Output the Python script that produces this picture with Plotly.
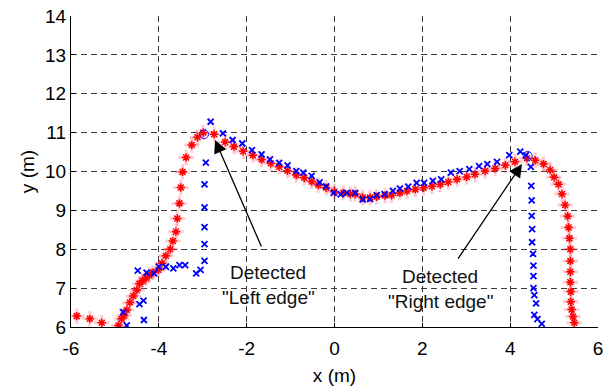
import plotly.graph_objects as go

# Red "*" series (x, y in metres)
red_x = [-5.87, -5.57, -5.30, -4.92, -4.85, -4.79, -4.73, -4.66, -4.58, -4.50, -4.44, -4.37, -4.29, -4.22,
         -4.13, -4.01, -3.93, -3.84, -3.74, -3.68, -3.61, -3.58, -3.53, -3.50, -3.46, -3.38, -3.25, -3.12,
         -2.99, -2.74, -2.49, -2.29, -2.08, -1.86, -1.66, -1.45, -1.26, -1.07, -0.87, -0.69, -0.52, -0.37,
         -0.19, 0.0, 0.20, 0.36, 0.47, 0.64, 0.81, 0.96, 1.15, 1.30, 1.49, 1.65, 1.84, 2.03, 2.22, 2.41,
         2.59, 2.79, 3.01, 3.20, 3.43, 3.66, 3.89, 4.11, 4.38, 4.57, 4.76, 4.91, 5.00, 5.10, 5.18, 5.25,
         5.31, 5.33, 5.35, 5.37, 5.37, 5.37, 5.37, 5.38, 5.38, 5.40, 5.43, 5.46]
red_y = [6.28, 6.21, 6.11, 6.04, 6.21, 6.30, 6.44, 6.63, 6.80, 6.95, 7.11, 7.19, 7.26, 7.33,
         7.40, 7.47, 7.64, 7.83, 8.00, 8.21, 8.45, 8.79, 9.18, 9.59, 9.99, 10.36, 10.68, 10.88,
         11.00, 10.96, 10.76, 10.64, 10.52, 10.42, 10.31, 10.21, 10.12, 10.02, 9.91, 9.84, 9.74, 9.65,
         9.58, 9.48, 9.45, 9.42, 9.42, 9.33, 9.33, 9.35, 9.38, 9.39, 9.45, 9.50, 9.54, 9.58, 9.62, 9.67,
         9.73, 9.80, 9.86, 9.93, 10.01, 10.08, 10.16, 10.25, 10.34, 10.29, 10.19, 10.04, 9.85, 9.67, 9.42, 9.14,
         8.85, 8.56, 8.28, 8.00, 7.70, 7.42, 7.15, 6.91, 6.65, 6.45, 6.27, 6.11]

# Blue "x" series
blue_x = [-4.73, -4.81, -4.34, -4.44, -4.35, -4.48, -4.28, -4.11, -4.00, -3.84, -3.67, -3.53, -3.40, -3.15,
          -3.05, -2.96, -2.96, -2.96, -2.96, -2.96, -2.93, -2.82, -2.54, -2.32, -2.10, -1.88, -1.66, -1.47,
          -1.26, -1.07, -0.87, -0.71, -0.52, -0.34, -0.19, -0.02, 0.14, 0.28, 0.47, 0.64, 0.81, 0.96,
          1.14, 1.33, 1.49, 1.68, 1.87, 2.04, 2.24, 2.43, 2.65, 2.85, 3.07, 3.29, 3.48, 3.70, 3.98, 4.23,
          4.36, 4.47, 4.48, 4.49, 4.49, 4.50, 4.50, 4.52, 4.53, 4.53, 4.53, 4.55, 4.59, 4.55, 4.62, 4.72]
blue_y = [6.04, 6.38, 6.18, 6.59, 6.68, 7.45, 7.40, 7.38, 7.55, 7.55, 7.51, 7.59, 7.59, 7.38,
          7.47, 7.70, 8.13, 8.57, 9.08, 9.67, 10.23, 11.28, 10.98, 10.81, 10.72, 10.55, 10.44, 10.31,
          10.22, 10.16, 10.01, 9.97, 9.89, 9.72, 9.62, 9.45, 9.41, 9.45, 9.45, 9.28, 9.29, 9.39,
          9.42, 9.50, 9.56, 9.61, 9.71, 9.71, 9.76, 9.80, 9.97, 10.01, 10.06, 10.14, 10.19, 10.25, 10.42, 10.51,
          10.42, 10.12, 9.63, 9.26, 8.86, 8.52, 8.18, 7.88, 7.58, 7.31, 7.00, 6.82, 6.61, 6.31, 6.20, 6.08]

# Detected edges (circles)
edge_x = [-2.97, 4.40]
edge_y = [10.96, 10.40]

# Annotation anchors: arrow tip, arrow tail, text position
left_tip = (-2.72, 10.81)
left_tail = (-1.65, 8.03)
left_text = (-1.51, 7.1)
right_tip = (4.27, 10.19)
right_tail = (2.79, 7.72)
right_text = (2.41, 6.98)

x_ticks = [-6, -4, -2, 0, 2, 4, 6]
y_ticks = [6, 7, 8, 9, 10, 11, 12, 13, 14]

FONT = "Liberation Sans, Arial, sans-serif"
FS = 19

fig = go.Figure()
# pink halo under red stars
fig.add_trace(go.Scatter(x=red_x, y=red_y, mode="markers", showlegend=False, hoverinfo="skip",
                         marker=dict(symbol="cross-thin-open", size=11, color="rgba(255,80,100,0.3)",
                                     line=dict(color="rgba(255,80,100,0.3)", width=3))))
fig.add_trace(go.Scatter(x=red_x, y=red_y, mode="markers", showlegend=False,
                         marker=dict(symbol="asterisk-open", size=7, color="#ff0000",
                                     line=dict(color="#ff0000", width=1.5))))
fig.add_trace(go.Scatter(x=blue_x, y=blue_y, mode="markers", showlegend=False,
                         marker=dict(symbol="x-thin-open", size=6, color="#0000ff",
                                     line=dict(color="#0000ff", width=1.8))))
fig.add_trace(go.Scatter(x=edge_x, y=edge_y, mode="markers", showlegend=False,
                         marker=dict(symbol="circle-open", size=9, color="#2020ff",
                                     line=dict(color="#2020ff", width=1))))

for tip, tail in [(left_tip, left_tail), (right_tip, right_tail)]:
    fig.add_annotation(x=tip[0], y=tip[1], ax=tail[0], ay=tail[1], xref="x", yref="y",
                       axref="x", ayref="y", text="", showarrow=True, arrowhead=2,
                       arrowsize=2, arrowwidth=1.3, arrowcolor="black")

for pos, lines in [(left_text, ["Detected", "\"Left edge\""]),
                   (right_text, ["Detected", "\"Right edge\""])]:
    fig.add_annotation(x=pos[0], y=pos[1], xref="x", yref="y", showarrow=False,
                       text=lines[0], yshift=12,
                       font=dict(family=FONT, size=FS, color="#111"))
    fig.add_annotation(x=pos[0], y=pos[1], xref="x", yref="y", showarrow=False,
                       text=lines[1], yshift=-13,
                       font=dict(family=FONT, size=FS, color="#111"))

axis_common = dict(showline=True, linecolor="black", linewidth=1.2,
                   showgrid=True, gridcolor="#3a3a3a", gridwidth=1, griddash="6px,4px",
                   ticks="inside", ticklen=4, tickcolor="black", zeroline=False,
                   tickfont=dict(family=FONT, size=FS, color="black"))

fig.update_xaxes(range=[-6, 6], tickvals=x_ticks, ticktext=[str(v) for v in x_ticks],
                 ticklabelstandoff=4,
                 title=dict(text="x (m)", font=dict(family=FONT, size=FS, color="black"), standoff=10),
                 **axis_common)
fig.update_yaxes(range=[6, 14], tickvals=y_ticks, ticktext=[str(v) for v in y_ticks],
                 title=dict(text="y (m)", font=dict(family=FONT, size=FS, color="black"), standoff=5),
                 **axis_common)

fig.update_layout(width=610, height=387, margin=dict(l=71, r=12, t=16, b=60, autoexpand=False),
                  plot_bgcolor="white", paper_bgcolor="white", showlegend=False)

fig.write_html("out.html")
